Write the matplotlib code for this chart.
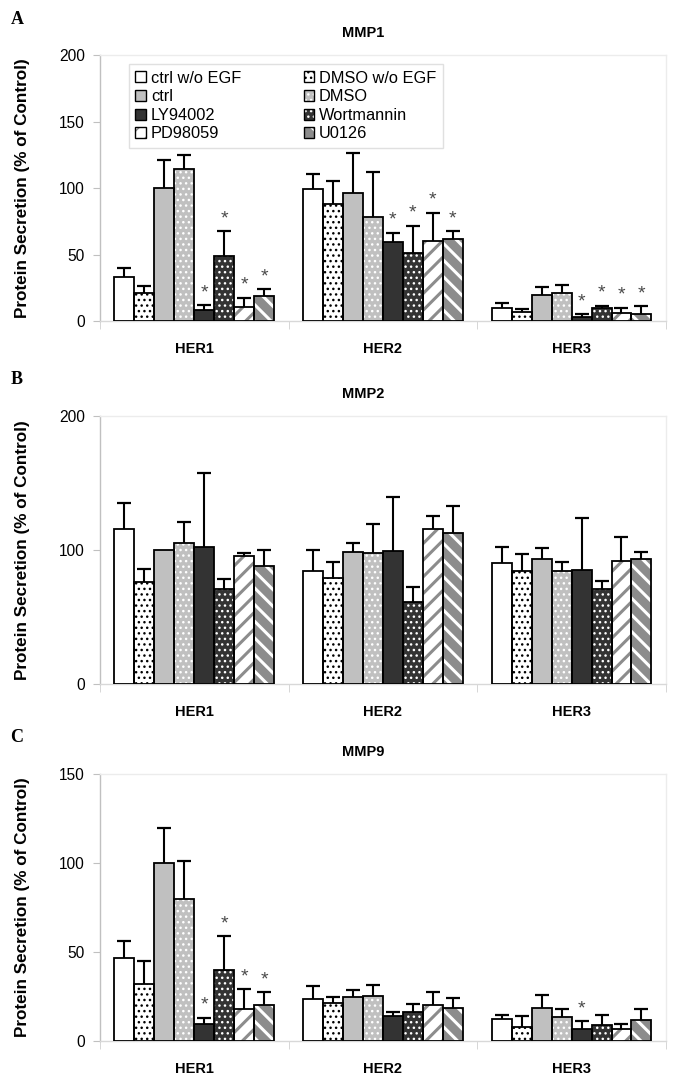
import matplotlib
matplotlib.use('Agg')
import matplotlib.pyplot as plt
from matplotlib.patches import Patch
import numpy as np

plt.rcParams['font.family'] = ['Liberation Sans', 'DejaVu Sans']
plt.rcParams['hatch.linewidth'] = 1.0

groups = ['HER1', 'HER2', 'HER3']
treatments = ['ctrl w/o EGF', 'DMSO w/o EGF', 'ctrl', 'DMSO',
              'LY94002', 'Wortmannin', 'PD98059', 'U0126']

# values per treatment, columns = HER1, HER2, HER3
mmp1_mean = [[33, 99.5, 9.8], [21, 88, 7], [100, 96, 19.5], [114, 78, 21],
             [8, 59.5, 3], [49, 51.5, 9.5], [10.5, 60.5, 6], [19, 61.5, 5]]
mmp1_err = [[7, 11, 4], [5, 17, 2], [21, 30, 6], [11, 34, 6],
            [4, 7, 2], [18.5, 20, 2], [7, 21, 4], [5, 6, 6]]
mmp1_star = [[0, 0, 0], [0, 0, 0], [0, 0, 0], [0, 0, 0],
             [1, 1, 1], [1, 1, 1], [1, 1, 1], [1, 1, 1]]

mmp2_mean = [[116, 84, 90.5], [76, 79, 84], [100, 98.5, 93.5], [105.5, 97.5, 84],
             [102.5, 99.5, 85], [71, 61, 71], [95.5, 115.5, 91.5], [88, 112.5, 93.5]]
mmp2_err = [[19, 16, 12], [10, 12, 13], [0, 7, 8], [15.5, 22, 7],
            [55, 40, 38.5], [7, 11, 6], [2, 9.5, 18.5], [12, 20, 5]]
mmp2_star = [[0, 0, 0]] * 8

mmp9_mean = [[46.5, 23.5, 12.5], [32, 21.5, 8], [100, 25, 18.5], [80, 25.5, 13.5],
             [9.5, 14, 6.7], [40, 16.5, 8.8], [18, 20, 6.6], [20, 18.5, 12]]
mmp9_err = [[9.5, 7.5, 2.3], [13, 3.5, 6], [19.5, 3.7, 7.5], [21, 6, 4.5],
            [3.7, 2.2, 4.3], [19, 4.5, 6], [11, 7.5, 3], [7.5, 5.5, 6]]
mmp9_star = [[0, 0, 0], [0, 0, 0], [0, 0, 0], [0, 0, 0],
             [1, 0, 1], [1, 0, 0], [1, 0, 0], [1, 0, 0]]

# face colour, hatch, hatch colour
styles = [('white', None, 'white'),
          ('white', '...', 'black'),
          ('#c0c0c0', None, '#c0c0c0'),
          ('#c0c0c0', '...', 'white'),
          ('#333333', None, '#333333'),
          ('#333333', '...', 'white'),
          ('white', '//', '#8c8c8c'),
          ('#8c8c8c', '\\\\', 'white')]
hatch_lw = {None: 1.0, '...': 1.0, '//': 2.2, '\\\\': 2.2}

W = 0.106


def draw_panel(ax, means, errs, stars, title, ymax, ystep, letter):
    x0 = np.arange(len(groups)) + 0.5
    for j, (face, hatch, hc) in enumerate(styles):
        xs = x0 + (j - 3.5) * W
        m = np.array(means[j], float)
        e = np.array(errs[j], float)
        with plt.rc_context({'hatch.linewidth': hatch_lw[hatch]}):
            bars = ax.bar(xs, m, W, color=face, edgecolor=hc, hatch=hatch,
                          linewidth=0, zorder=2)
            for b in bars:
                if hasattr(b, 'set_hatch_linewidth'):
                    b.set_hatch_linewidth(hatch_lw[hatch])
        ax.bar(xs, m, W, fill=False, edgecolor='black', linewidth=1.3, zorder=3)
        has = e > 0
        ax.vlines(xs[has], m[has], (m + e)[has], color='black', lw=1.5, zorder=1)
        ax.plot(xs[has], (m + e)[has], ls='none', marker='_', ms=10, mew=1.6,
                color='black', zorder=1)
        for k in range(len(groups)):
            if stars[j][k]:
                ax.annotate('*', xy=(xs[k], m[k] + e[k]), xytext=(0, 9),
                            textcoords='offset points', ha='center', va='center',
                            fontsize=14, color='#4a4a4a')
    ax.set_xlim(0, len(groups))
    ax.set_ylim(0, ymax)
    ax.set_yticks(np.arange(0, ymax + 1, ystep))
    ax.set_xticks(x0, groups, fontweight='bold', fontsize=10.5)
    ax.set_xticks(np.arange(len(groups) + 1), minor=True)
    ax.tick_params(axis='x', which='major', length=0, pad=15)
    ax.tick_params(axis='x', which='minor', length=6, color='#d0d0d0', direction='out')
    ax.tick_params(axis='y', length=5, color='#c0c0c0', labelsize=11.2, pad=6)
    ax.spines['left'].set_color('#c0c0c0')
    ax.spines['bottom'].set_color('#d8d8d8')
    ax.spines['top'].set_color('#ececec')
    ax.spines['right'].set_color('#ececec')
    for s in ax.spines.values():
        s.set_linewidth(1.0)
    ax.set_ylabel('Protein Secretion (% of Control)', fontweight='bold', fontsize=12.3)
    ax.yaxis.set_label_coords(-0.123, 0.5)
    ax.annotate(title, xy=(0.465, 1.0), xycoords='axes fraction', xytext=(0, 16),
                textcoords='offset points', ha='center', va='center',
                fontweight='bold', fontsize=10.5)
    ax.text(-0.158, 1.135, letter, transform=ax.transAxes, ha='left', va='center',
            fontweight='bold', fontsize=13, family=['Liberation Serif', 'DejaVu Serif'])


fig = plt.figure(figsize=(6.85, 10.86), dpi=100)
axA = fig.add_axes([0.146, 0.7044, 0.826, 0.2449])
axB = fig.add_axes([0.146, 0.3702, 0.826, 0.2468])
axC = fig.add_axes([0.146, 0.0414, 0.826, 0.2459])

draw_panel(axA, mmp1_mean, mmp1_err, mmp1_star, 'MMP1', 200, 50, 'A')
draw_panel(axB, mmp2_mean, mmp2_err, mmp2_star, 'MMP2', 200, 100, 'B')
draw_panel(axC, mmp9_mean, mmp9_err, mmp9_star, 'MMP9', 150, 50, 'C')

handles = []
for face, hatch, hc in styles:
    with plt.rc_context({'hatch.linewidth': hatch_lw[hatch]}):
        h1 = Patch(facecolor=face, edgecolor=hc, hatch=hatch, linewidth=0)
    h2 = Patch(fill=False, edgecolor='black', linewidth=1.0)
    handles.append((h1, h2))
order = [0, 2, 4, 6, 1, 3, 5, 7]
leg = axA.legend([handles[i] for i in order], [treatments[i] for i in order],
                 ncol=2, loc='upper left', bbox_to_anchor=(0.051, 0.966),
                 borderaxespad=0, fontsize=11.8, handlelength=0.65,
                 handleheight=0.65, handletextpad=0.3, labelspacing=0.22,
                 columnspacing=3.8, borderpad=0.4, fancybox=False, framealpha=1)
leg.get_frame().set_edgecolor('#e0e0e0')
leg.get_frame().set_linewidth(1.0)

fig.savefig('out.png', dpi=100)
